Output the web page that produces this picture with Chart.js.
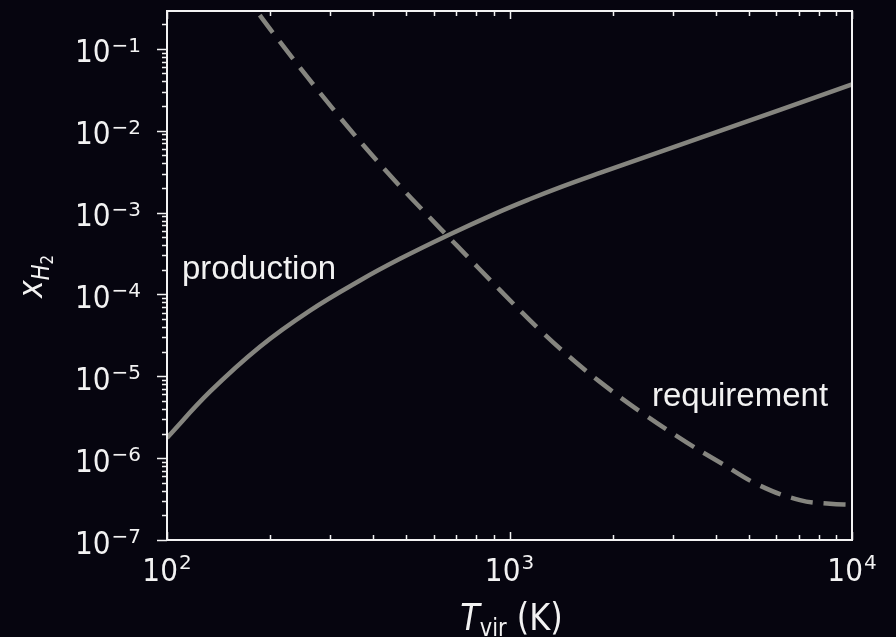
<!DOCTYPE html>
<html lang="en">
<head>
<meta charset="UTF-8">
<title>H2 production vs requirement</title>
<style>
  html, body { margin: 0; padding: 0; background: #06050f; }
  #wrap { width: 896px; height: 637px; }
</style>
<script src="https://cdn.jsdelivr.net/npm/chart.js"></script>
</head>
<body>
<div id="wrap"><canvas id="h2Chart" width="896" height="637"></canvas></div>
<script>
// virial temperature (K) vs H2 fraction for each curve
var prodTemps = [100, 133.5, 186.8, 261.5, 366, 478.9, 661.3, 895.1, 1148, 1404, 1837, 2572, 3599, 6163, 10000];
var prodFrac  = [1.77e-6, 6.48e-6, 2.30e-5, 6.35e-5, 1.48e-4, 2.72e-4, 5.28e-4, 9.45e-4, 1.463e-3, 2.034e-3, 3.053e-3, 5.0e-3, 8.18e-3, 0.018, 0.0367];

var reqTemps = [163.4, 180.7, 213.8, 313.6, 438.9, 614.2, 702.6, 938.1, 1228, 1502, 1837, 2405, 3297, 4118, 5387, 7048, 8625, 10000];
var reqFrac  = [0.547, 0.308, 0.1213, 0.01607, 3.13e-3, 7.03e-4, 3.94e-4, 1.129e-4, 3.656e-5, 1.708e-5, 8.54e-6, 3.71e-6, 1.547e-6, 8.86e-7, 4.61e-7, 3.07e-7, 2.77e-7, 2.70e-7];

// axis ranges and tick exponents
var xRange = [100, 10000];
var yRange = [1e-7, 0.29];
var xExps = [2, 3, 4];
var yExps = [-7, -6, -5, -4, -3, -2, -1];

var BG = '#06050f';
var FG = '#f2f2f2';
var LINE = '#85857f';
var SY = 1.15; // tick/axis text is a bit taller than wide

var BASE_FONT = '28px "DejaVu Sans"';
var SUP_FONT = '20px "DejaVu Sans"';

function pts(xs, ys) {
    return xs.map(function (v, i) { return { x: v, y: ys[i] }; });
}

function stretchedText(ctx, txt, x, y, font, sy) {
    ctx.save();
    ctx.font = font;
    ctx.translate(x, y);
    ctx.scale(1, sy || SY);
    ctx.fillText(txt, 0, 0);
    ctx.restore();
}

// "10" followed by a superscript exponent, drawn from the left edge
function powerLabel(ctx, left, baseY, supY, exp) {
    ctx.font = BASE_FONT;
    var w = ctx.measureText('10').width;
    stretchedText(ctx, '10', left, baseY, BASE_FONT);
    stretchedText(ctx, exp, left + w + 1, supY, SUP_FONT, 1.0);
}

function powerWidth(ctx, exp) {
    ctx.font = BASE_FONT;
    var w = ctx.measureText('10').width;
    ctx.font = SUP_FONT;
    return w + 1 + ctx.measureText(exp).width;
}

function expText(e) {
    return (e < 0 ? '\u2212' : '') + Math.abs(e);
}

const axesPlugin = {
    id: 'axesPlugin',
    beforeDraw: function (chart) {
        const ctx = chart.ctx;
        ctx.save();
        ctx.fillStyle = BG;
        ctx.fillRect(0, 0, chart.width, chart.height);
        ctx.restore();
    },
    afterDatasetsDraw: function (chart) {
        const ctx = chart.ctx;
        const a = chart.chartArea;
        const xs = chart.scales.x, ys = chart.scales.y;
        ctx.save();

        // frame
        ctx.strokeStyle = FG;
        ctx.lineWidth = 2;
        ctx.strokeRect(a.left, a.top, a.right - a.left, a.bottom - a.top);

        // x ticks point inward, on bottom and top
        ctx.lineWidth = 1.5;
        ctx.beginPath();
        for (let e = xExps[0]; e <= xExps[xExps.length - 1]; e++) {
            for (let m = 1; m <= 9; m++) {
                const v = m * Math.pow(10, e);
                if (v < xRange[0] || v > xRange[1]) continue;
                const px = Math.round(xs.getPixelForValue(v)) + 0.5;
                const len = m === 1 ? 8 : 5;
                ctx.moveTo(px, a.bottom);
                ctx.lineTo(px, a.bottom - len);
                ctx.moveTo(px, a.top);
                ctx.lineTo(px, a.top + len);
            }
        }
        // y ticks point outward on the left
        for (let e = yExps[0]; e <= yExps[yExps.length - 1]; e++) {
            for (let m = 1; m <= 9; m++) {
                const v = m * Math.pow(10, e);
                if (v < yRange[0] || v > yRange[1]) continue;
                const py = Math.round(ys.getPixelForValue(v)) + 0.5;
                const len = m === 1 ? 10 : 5;
                ctx.moveTo(a.left, py);
                ctx.lineTo(a.left - len, py);
            }
        }
        ctx.stroke();

        // tick labels
        ctx.fillStyle = FG;
        ctx.textBaseline = 'alphabetic';
        ctx.textAlign = 'left';
        yExps.forEach(function (e) {
            const py = ys.getPixelForValue(Math.pow(10, e));
            const t = expText(e);
            const w = powerWidth(ctx, t);
            powerLabel(ctx, a.left - 26 - w, py + 13.5, py + 3, t);
        });
        xExps.forEach(function (e) {
            const px = xs.getPixelForValue(Math.pow(10, e));
            const t = expText(e);
            const w = powerWidth(ctx, t);
            powerLabel(ctx, px - w / 2, a.bottom + 41, a.bottom + 29, t);
        });

        // x axis title: T_vir (K)
        const tFont = 'italic 32px "DejaVu Sans"';
        const subFont = '21px "DejaVu Sans"';
        const kFont = '32px "DejaVu Sans"';
        ctx.font = tFont; const wT = ctx.measureText('T').width;
        ctx.font = subFont; const wSub = ctx.measureText('vir').width;
        ctx.font = kFont; const wK = ctx.measureText(' (K)').width;
        let tx = (a.left + a.right) / 2 + 2 - (wT + wSub + wK) / 2;
        const tb = a.bottom + 90;
        stretchedText(ctx, 'T', tx, tb, tFont); tx += wT;
        stretchedText(ctx, 'vir', tx, tb + 6, subFont); tx += wSub;
        stretchedText(ctx, ' (K)', tx, tb, kFont);

        // y axis title: x_{H_2}, rotated
        ctx.save();
        ctx.translate(42, (a.top + a.bottom) / 2 + 1);
        ctx.rotate(-Math.PI / 2);
        const xFont = 'italic 30px "DejaVu Sans"';
        const hFont = 'italic 21px "DejaVu Sans"';
        const twoFont = '15px "DejaVu Sans"';
        ctx.font = xFont; const wx = ctx.measureText('x').width;
        ctx.font = hFont; const wh = ctx.measureText('H').width;
        ctx.font = twoFont; const w2 = ctx.measureText('2').width;
        let yx = -(wx + wh + w2) / 2;
        stretchedText(ctx, 'x', yx, 0, xFont); yx += wx;
        stretchedText(ctx, 'H', yx, 7, hFont); yx += wh;
        stretchedText(ctx, '2', yx, 11, twoFont);
        ctx.restore();

        // curve labels
        ctx.font = '33px "Liberation Sans", Arial, sans-serif';
        ctx.fillText('production', xs.getPixelForValue(110.6), ys.getPixelForValue(1.55e-4));
        ctx.fillText('requirement', xs.getPixelForValue(2606), ys.getPixelForValue(4.33e-6));

        ctx.restore();
    }
};

Chart.register(axesPlugin);

var data = {
    datasets: [
        {
            label: 'production',
            data: pts(prodTemps, prodFrac),
            borderColor: LINE,
            borderWidth: 4.5,
            pointRadius: 0,
            tension: 0.4,
            clip: 0
        },
        {
            label: 'requirement',
            data: pts(reqTemps, reqFrac),
            borderColor: LINE,
            borderWidth: 4.5,
            borderDash: [22, 11],
            pointRadius: 0,
            tension: 0.4,
            clip: 0
        }
    ]
};

var options = {
    responsive: false,
    animation: false,
    layout: { padding: { left: 167, top: 11, right: 44, bottom: 97 } },
    plugins: {
        legend: { display: false },
        tooltip: { enabled: false }
    },
    scales: {
        x: { type: 'logarithmic', min: xRange[0], max: xRange[1], display: false },
        y: { type: 'logarithmic', min: yRange[0], max: yRange[1], display: false }
    }
};

var ctx = document.getElementById('h2Chart').getContext('2d');
new Chart(ctx, { type: 'line', data: data, options: options });
</script>
</body>
</html>
